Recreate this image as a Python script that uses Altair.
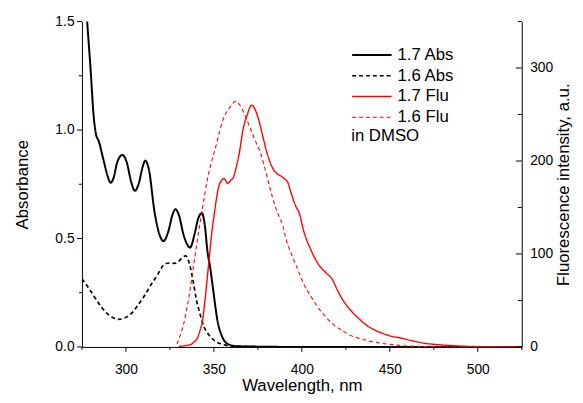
import altair as alt
import pandas as pd

# ---------------- data ----------------
abs17_wl = [275, 278, 279.9, 281.7, 283, 284.5, 287.3, 289.5, 291.3, 293, 295, 298, 300.5, 303, 305.1,
            307.5, 309.5, 311, 313, 316.3, 319, 321.4, 324, 326.5, 328.1, 330, 333, 336.5, 339, 341,
            343.2, 345, 346.2, 348, 350, 351.8, 354.6, 358.3, 362, 370, 400, 525]
abs17_val = [1.83, 1.495, 1.28, 1.06, 0.98, 0.95, 0.86, 0.79, 0.757, 0.78, 0.85, 0.885, 0.85, 0.76, 0.72,
             0.76, 0.83, 0.859, 0.82, 0.62, 0.52, 0.488, 0.53, 0.61, 0.635, 0.61, 0.51, 0.458, 0.52, 0.59,
             0.617, 0.55, 0.45, 0.36, 0.238, 0.132, 0.049, 0.012, 0.004, 0.002, 0.0, 0.0]

abs16_wl = [275, 279, 282.7, 286, 288.3, 292, 295.7, 299, 303.2, 307, 310.7, 314.5, 318.2, 320, 321.9,
            325, 327.5, 329.5, 331.2, 334, 336.8, 338.5, 340, 341.5, 344.3, 347.1, 350.9, 355, 359, 365,
            400, 525]
abs16_val = [0.314, 0.27, 0.223, 0.185, 0.162, 0.138, 0.127, 0.133, 0.155, 0.195, 0.238, 0.29, 0.336,
             0.362, 0.382, 0.387, 0.385, 0.39, 0.405, 0.42, 0.36, 0.29, 0.22, 0.17, 0.094, 0.056, 0.026,
             0.012, 0.005, 0.002, 0.0, 0.0]

flu17_wl = [330, 334, 336.8, 338.5, 340.6, 342, 343.4, 345.2, 347.1, 349, 350, 351.5, 352.7, 354, 355.9,
            357.8, 359.5, 361.2, 362.5, 364, 366.8, 369, 371.4, 373, 375.2, 378, 380, 381.7, 383.5,
            385.4, 388, 390, 392, 394, 396.6, 398.5, 401, 405, 409, 413.5, 417.2, 420, 422.8, 427,
            432.1, 437, 443.3, 450, 456.4, 463, 469.5, 477, 484.5, 497, 510, 525]
flu17_val = [0.5, 1.5, 2.5, 5, 9.5, 17, 27, 55, 91, 126, 140, 160, 172, 178, 181,
             176, 179, 183, 192, 204, 236, 250, 260, 257, 246, 225, 210, 200, 192,
             187, 184, 181, 177, 165, 151, 144, 125, 105, 90, 80, 73, 62, 52, 41,
             31, 23, 16.6, 12, 9.5, 6.5, 4, 2.5, 1.5, 0.5, 0.2, 0]

flu16_wl = [329, 330.3, 333.1, 335.9, 338.7, 341.5, 344, 346.2, 348.5, 350.9, 353, 355.5, 358, 360, 362,
            364, 366.8, 369, 371.4, 373.5, 376.1, 379, 381.7, 385.4, 389.2, 391, 394, 397.5, 401, 405,
            409, 413.5, 418, 422.8, 427, 432.1, 438, 445, 452, 460, 470, 480, 500, 525]
flu16_val = [3, 9.5, 27, 55, 91, 126, 155, 179, 198, 214, 230, 246, 255, 260, 264,
             262, 253, 243, 232, 222, 211, 192, 172, 148, 130, 116, 100, 84, 68, 55,
             43, 32.5, 24, 18, 13, 9.5, 6.5, 4, 2.5, 1, 0.5, 0.2, 0, 0]

series_names = ["1.7 Abs", "1.6 Abs", "1.7 Flu", "1.6 Flu"]
series_colors = ["#000000", "#000000", "#ff0000", "#ff0000"]
series_dash = [[1, 0], [4, 3], [1, 0], [4, 3]]
series_width = [2, 1.1, 2, 1.1]

x_major = [300, 350, 400, 450, 500]
x_minor = [275, 325, 375, 425, 475, 525]
abs_major = [0, 0.5, 1.0, 1.5]
abs_minor = [0.25, 0.75, 1.25]
flu_major = [0, 100, 200, 300]
flu_minor = [50, 150, 250, 350]

X_DOMAIN = [275, 525]
ABS_DOMAIN = [0, 1.5]
FLU_DOMAIN = [0, 350]

W, H = 446, 330


def frame(name, wl, val, col):
    return pd.DataFrame({"wl": wl, col: val, "series": name})


abs_df = pd.concat([frame("1.7 Abs", abs17_wl, abs17_val, "abs"),
                    frame("1.6 Abs", abs16_wl, abs16_val, "abs")])
flu_df = pd.concat([frame("1.7 Flu", flu17_wl, flu17_val, "flu"),
                    frame("1.6 Flu", flu16_wl, flu16_val, "flu")])

FONT = "Liberation Sans"

legend = alt.Legend(
    title="in DMSO", titleOrient="bottom", titleAnchor="start", titleFont=FONT,
    titleFontSize=17, titleFontWeight="normal", titleColor="#000000", titlePadding=3,
    orient="none", legendX=273, legendY=23, padding=0,
    symbolType="M-1,0L3,0", symbolSize=400, labelFont=FONT, labelFontSize=17,
    labelColor="#000000", labelOffset=25, rowPadding=2,
)

color = alt.Color("series:N", scale=alt.Scale(domain=series_names, range=series_colors), legend=legend)
dash = alt.StrokeDash("series:N", scale=alt.Scale(domain=series_names, range=series_dash), legend=legend)
swidth = alt.StrokeWidth("series:N", scale=alt.Scale(domain=series_names, range=series_width), legend=legend)

xs = alt.Scale(domain=X_DOMAIN, nice=False, zero=False)
abs_s = alt.Scale(domain=ABS_DOMAIN, nice=False)
flu_s = alt.Scale(domain=FLU_DOMAIN, nice=False)


def tick_rule(values):
    return alt.Chart(pd.DataFrame({"v": values})).mark_rule(
        clip=False, color="#000000", strokeWidth=1)


# ---- absorbance group (left axis, bottom axis) ----
abs_lines = alt.Chart(abs_df).mark_line(interpolate="monotone", clip=True).encode(
    x=alt.X("wl:Q", scale=xs,
            axis=alt.Axis(title="Wavelength, nm", values=x_major, ticks=False, tickSize=0,
                          labelPadding=16, titlePadding=1, grid=False)),
    y=alt.Y("abs:Q", scale=abs_s,
            axis=alt.Axis(title="Absorbance", orient="left", values=abs_major, format=".1f",
                          ticks=False, tickSize=0, labelPadding=8, titlePadding=24, grid=False)),
    color=color, strokeDash=dash, strokeWidth=swidth, order="wl:Q",
)

x_major_ticks = tick_rule(x_major).encode(
    x=alt.X("v:Q", scale=xs, axis=None), y=alt.value(H), y2=alt.value(H + 5))
x_minor_ticks = tick_rule(x_minor).encode(
    x=alt.X("v:Q", scale=xs, axis=None), y=alt.value(H), y2=alt.value(H + 3))
abs_major_ticks = tick_rule(abs_major).encode(
    y=alt.Y("v:Q", scale=abs_s, axis=None), x=alt.value(-5), x2=alt.value(0))
abs_minor_ticks = tick_rule(abs_minor).encode(
    y=alt.Y("v:Q", scale=abs_s, axis=None), x=alt.value(-3), x2=alt.value(0))

abs_group = alt.layer(
    abs_lines, x_major_ticks, x_minor_ticks, abs_major_ticks, abs_minor_ticks
).resolve_axis(x="independent", y="independent")

# ---- fluorescence group (right axis, ticks pointing inward) ----
flu_lines = alt.Chart(flu_df).mark_line(interpolate="monotone", clip=True).encode(
    x=alt.X("wl:Q", scale=xs, axis=None),
    y=alt.Y("flu:Q", scale=flu_s,
            axis=alt.Axis(title="Fluorescence intensity, a.u.", orient="right", values=flu_major,
                          ticks=False, tickSize=0, labelPadding=8, titlePadding=3,
                          titleAngle=270, titleBaseline="top", grid=False)),
    color=color, strokeDash=dash, strokeWidth=swidth, order="wl:Q",
)

flu_major_ticks = tick_rule(flu_major).encode(
    y=alt.Y("v:Q", scale=flu_s, axis=None), x=alt.value(W - 6), x2=alt.value(W))
flu_minor_ticks = tick_rule(flu_minor).encode(
    y=alt.Y("v:Q", scale=flu_s, axis=None), x=alt.value(W - 4), x2=alt.value(W))

flu_group = alt.layer(flu_lines, flu_major_ticks, flu_minor_ticks).resolve_axis(y="independent")

chart = alt.layer(abs_group, flu_group).resolve_scale(y="independent").resolve_axis(
    x="independent", y="independent"
).properties(
    width=W, height=H, background="white",
    autosize=alt.AutoSizeParams(type="none"),
    padding={"left": 75, "top": 11, "right": 54, "bottom": 46},
).configure_view(stroke=None).configure_axis(
    labelFont=FONT, labelFontSize=14, labelColor="#000000",
    titleFont=FONT, titleFontSize=17, titleFontWeight="normal", titleColor="#000000",
    domainColor="#000000", domainWidth=1,
)

chart.save("out.html", embed_options={"renderer": "svg", "actions": False})
